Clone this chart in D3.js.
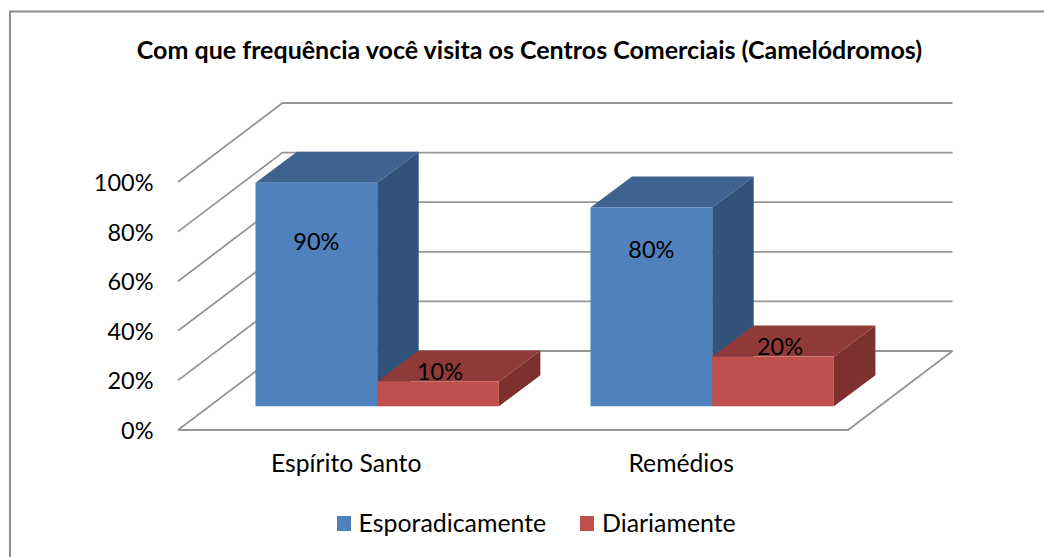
<!DOCTYPE html>
<html><head><meta charset="utf-8">
<script src="https://cdn.jsdelivr.net/npm/d3@7/dist/d3.min.js"></script>
<style>html,body{margin:0;padding:0;background:#fff}svg{display:block}text{font-family:Lato,"Open Sans",sans-serif;fill:#000}</style>
</head><body><svg id="c" width="1044" height="557"></svg>
<script>
const titleText = "Com que frequência você visita os Centros Comerciais (Camelódromos)";
const categories = ["Espírito Santo", "Remédios"];
const seriesNames = ["Esporadicamente", "Diariamente"];
const esporadicamente = [90, 80];
const diariamente = [10, 20];
const yTicks = [0, 20, 40, 60, 80, 100];
const colors = {Esporadicamente:{front:"#4f81bd",top:"#3e638f",side:"#325379"},Diariamente:{front:"#c0504d",top:"#8f3a38",side:"#7c3130"}};
// hand placement of the data labels relative to each bar (dx from centre, dy from top)
const labelNudge = {Esporadicamente:[[0,67],[0,50]],Diariamente:[[2,-1.5],[7,-1.5]]};

const svg = d3.select("#c");
svg.append("path").attr("d","M10 557V11.5H1044").attr("fill","none").attr("stroke","#8e8e8e").attr("stroke-width",2);

// 3D projection parameters
const floorDX=104.5, floorDY=-79;
const y = d3.scaleLinear().domain([0,100]).range([430,182]);
const wallX = d3.scaleLinear().domain([0,1]).range([178,848]);
const gridColor="#969696";

const grid=svg.append("g").attr("fill","none").attr("stroke",gridColor).attr("stroke-width",1.8);
yTicks.forEach(t=>{
  grid.append("path").attr("d",`M${wallX(0)} ${y(t)}L${wallX(0)+floorDX} ${y(t)+floorDY}H${wallX(1)+floorDX}`);
});
grid.append("path").attr("d",`M${wallX(0)} ${y(0)}H${wallX(1)}L${wallX(1)+floorDX} ${y(0)+floorDY}`);

// bars
const baseShift=31.7, baseY=406.3, barDX=41.5, barDY=-31;
const yBar = d3.scaleLinear().domain([0,100]).range([baseY,baseY-248.5]);
const x0 = d3.scaleBand().domain(categories).range([178+baseShift,848+baseShift]);
const x1 = d3.scaleBand().domain(seriesNames).range([x0.bandwidth()/2-121.7,x0.bandwidth()/2+121.7]);
const seriesValues={Esporadicamente:esporadicamente,Diariamente:diariamente};
const bars=svg.append("g");
const labels=[];
seriesNames.forEach(s=>{
  categories.forEach((c,i)=>{
    const v=seriesValues[s][i], x=x0(c)+x1(s), w=x1.bandwidth(), t=yBar(v), col=colors[s];
    const g=bars.append("g");
    g.append("path").attr("fill",col.side).attr("d",`M${x+w} ${t}l${barDX} ${barDY}V${baseY+barDY}L${x+w} ${baseY}Z`);
    g.append("path").attr("fill",col.top).attr("d",`M${x} ${t}l${barDX} ${barDY}h${w}l${-barDX} ${-barDY}Z`);
    g.append("rect").attr("x",x).attr("y",t).attr("width",w).attr("height",baseY-t).attr("fill",col.front);
    labels.push({v,x:x+w/2+labelNudge[s][i][0],y:t+labelNudge[s][i][1]});
  });
});
// data labels
svg.append("g").selectAll("text").data(labels).join("text")
  .attr("x",d=>d.x).attr("y",d=>d.y).attr("text-anchor","middle").attr("font-size",23.5).text(d=>d.v+"%");

// y tick labels
svg.append("g").selectAll("text").data(yTicks).join("text")
  .attr("x",153.5).attr("y",d=>y(d)+9).attr("text-anchor","end").attr("font-size",23.5).text(d=>d+"%");
// category labels
svg.append("g").selectAll("text").data(categories).join("text")
  .attr("x",c=>x0(c)+x0.bandwidth()/2-31).attr("y",472).attr("text-anchor","middle").attr("font-size",24.7)
  .text(c=>c);
// title
svg.append("text").attr("x",529.5).attr("y",59).attr("text-anchor","middle").attr("font-size",25).attr("font-weight",700).text(titleText);
// legend
const legendX=[337,580], legendTextX=[358.5,602];
const lg=svg.append("g");
seriesNames.forEach((s,i)=>{
  lg.append("rect").attr("x",legendX[i]).attr("y",516).attr("width",14).attr("height",15).attr("fill",colors[s].front);
  lg.append("text").attr("x",legendTextX[i]).attr("y",532).attr("font-size",24.9).text(s);
});
</script></body></html>
